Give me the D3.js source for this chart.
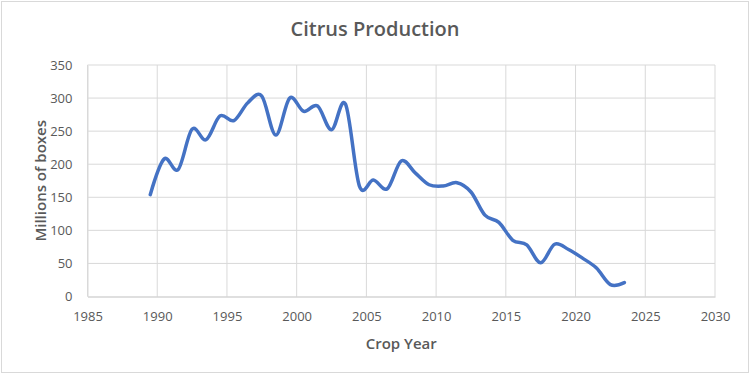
<!DOCTYPE html>
<html>
<head>
<meta charset="utf-8">
<script src="https://cdn.jsdelivr.net/npm/d3@7"></script>
<style>
  body { margin: 0; background: #fff; }
  svg { display: block; }
</style>
</head>
<body>
<div id="chart"></div>
<script>
// citrus production by crop year, smoothed line like the spreadsheet original

const cropYears = [
  1989.5, 1990.5, 1991.5, 1992.5, 1993.5, 1994.5, 1995.5, 1996.5, 1997.5, 1998.5,
  1999.5, 2000.5, 2001.5, 2002.5, 2003.5, 2004.5, 2005.5, 2006.5, 2007.5, 2008.5,
  2009.5, 2010.5, 2011.5, 2012.5, 2013.5, 2014.5, 2015.5, 2016.5, 2017.5, 2018.5,
  2019.5, 2020.5, 2021.5, 2022.5, 2023.5
];

const boxes = [
  154, 208, 192, 253, 237, 273, 266, 293, 303, 244,
  300, 280, 288, 252, 291, 167, 176, 163, 205, 187,
  169, 167, 172, 158, 123, 112, 85, 78, 51, 79,
  71, 58, 43, 18, 21
];

const xTicks = [1985, 1990, 1995, 2000, 2005, 2010, 2015, 2020, 2025, 2030];
const yTicks = [0, 50, 100, 150, 200, 250, 300, 350];

const WIDTH = 750;
const HEIGHT = 374;
const plot = { left: 87.5, right: 715, top: 65, bottom: 296.5 };

const TEXT = '#595959';
const GRID = '#d9d9d9';
const FONT = '"Open Sans", "Noto Sans", sans-serif';

function drawChart() {
  const svg = d3.select('#chart').append('svg')
    .attr('width', WIDTH)
    .attr('height', HEIGHT);

  svg.append('rect')
    .attr('x', 1.5).attr('y', 1.5)
    .attr('width', WIDTH - 3).attr('height', HEIGHT - 3)
    .attr('fill', '#fff')
    .attr('stroke', GRID);

  const x = d3.scaleLinear().domain([1985, 2030]).range([plot.left, plot.right]);
  const y = d3.scaleLinear().domain([0, 350]).range([plot.bottom, plot.top]);

  // gridlines
  svg.append('g')
    .selectAll('line')
    .data(yTicks.filter(d => d > 0))
    .enter()
    .append('line')
    .attr('x1', plot.left).attr('x2', plot.right)
    .attr('y1', d => y(d)).attr('y2', d => y(d))
    .attr('stroke', GRID).attr('stroke-width', 1);

  svg.append('g')
    .selectAll('line')
    .data(xTicks)
    .enter()
    .append('line')
    .attr('x1', d => x(d)).attr('x2', d => x(d))
    .attr('y1', plot.top).attr('y2', plot.bottom)
    .attr('stroke', GRID).attr('stroke-width', 1);

  // x axis
  const xAxis = svg.append('g')
    .attr('transform', `translate(0,${plot.bottom})`)
    .call(d3.axisBottom(x).tickValues(xTicks).tickFormat(d3.format('d')).tickSize(0).tickPadding(15));
  xAxis.select('.domain').attr('stroke', '#bfbfbf').attr('stroke-width', 1.2);
  xAxis.selectAll('text')
    .attr('fill', TEXT).attr('font-family', FONT).attr('font-size', 13);

  // y axis
  const yAxis = svg.append('g')
    .attr('transform', `translate(${plot.left},0)`)
    .call(d3.axisLeft(y).tickValues(yTicks).tickSize(0).tickPadding(15));
  yAxis.select('.domain').attr('stroke', GRID);
  yAxis.selectAll('text')
    .attr('fill', TEXT).attr('font-family', FONT).attr('font-size', 13);

  // the series
  const points = cropYears.map((yr, i) => [yr, boxes[i]]);
  const line = d3.line()
    .x(d => x(d[0]))
    .y(d => y(d[1]))
    .curve(d3.curveCardinal.tension(0));

  svg.append('path')
    .datum(points)
    .attr('d', line)
    .attr('fill', 'none')
    .attr('stroke', '#4472C4')
    .attr('stroke-width', 3.5)
    .attr('stroke-linejoin', 'round')
    .attr('stroke-linecap', 'round');

  // titles
  svg.append('text')
    .attr('x', 375).attr('y', 36)
    .attr('text-anchor', 'middle')
    .attr('fill', TEXT).attr('font-family', FONT).attr('font-size', 20)
    .attr('font-weight', 600)
    .text('Citrus Production');

  svg.append('text')
    .attr('x', (plot.left + plot.right) / 2).attr('y', 349)
    .attr('text-anchor', 'middle')
    .attr('fill', TEXT).attr('font-family', FONT).attr('font-size', 15)
    .attr('font-weight', 600)
    .text('Crop Year');

  svg.append('text')
    .attr('transform', `translate(46,${(plot.top + plot.bottom) / 2}) rotate(-90)`)
    .attr('text-anchor', 'middle')
    .attr('fill', TEXT).attr('font-family', FONT).attr('font-size', 15)
    .attr('font-weight', 600)
    .text('Millions of boxes');
}

document.addEventListener('DOMContentLoaded', drawChart);
</script>
</body>
</html>
